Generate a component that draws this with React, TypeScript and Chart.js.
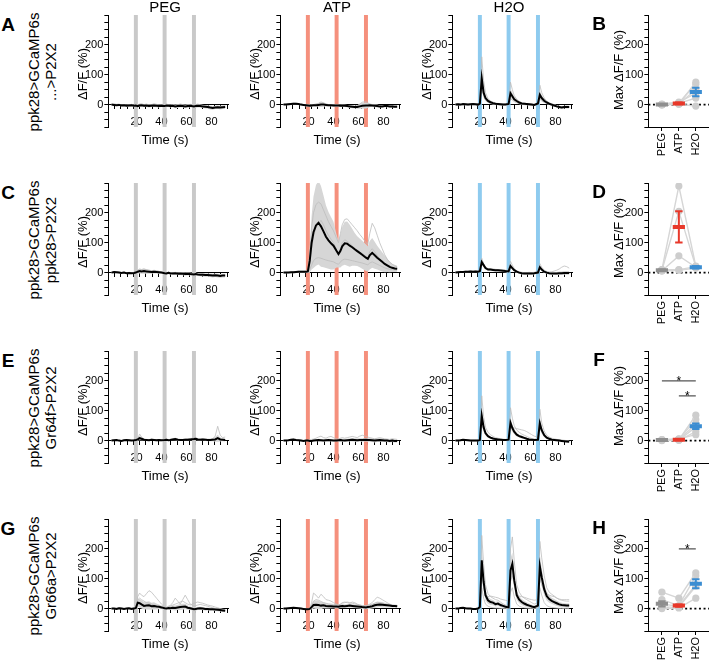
import { useEffect, useRef } from 'react';
import { Chart, registerables } from 'chart.js';

Chart.register(...registerables);

const FONT = '"Liberation Sans", Arial, Helvetica, sans-serif';
Chart.defaults.font.family = FONT;

// ---------- shared axes / labels ----------
const TIME = [0, 2, 4, 6, 8, 10, 12, 14, 16, 18, 19.5, 21, 22.5, 24, 26, 28, 30, 32, 34, 36, 38, 40, 42.5, 44, 45.5, 47, 49, 51, 53, 55, 57, 59, 61, 63, 66, 67.5, 69, 71, 73, 75, 77, 79, 81, 83, 85, 87, 89, 91];
const STIM_TIMES = [19.5, 42.5, 66];
const Y_TICK_LABELS = [0, 100, 200];
const X_TICK_LABELS = [20, 40, 60, 80];
const CONDITIONS = ['PEG', 'ATP', 'H2O'];
const ROW_LETTERS = [['A', 'B'], ['C', 'D'], ['E', 'F'], ['G', 'H']];
const ROW_LABELS = [
  ['ppk28>GCaMP6s', '...>P2X2'],
  ['ppk28>GCaMP6s', 'ppk28>P2X2'],
  ['ppk28>GCaMP6s', 'Gr64f>P2X2'],
  ['ppk28>GCaMP6s', 'Gr66a>P2X2'],
];
const Y_LABEL = 'ΔF/F (%)';
const X_LABEL = 'Time (s)';
const SUM_Y_LABEL = 'Max ΔF/F (%)';

// ---------- row A ----------
const A_PEG_MEAN = [0,-1,-2,-1,-3,-2,-4,-3,-2,-4, -3,-5,-3,-2, -4,-3,-5,-4,-3,-4,-5,-4, -5,-3,-4,-5, -4,-6,-5,-4,-5,-6,-5,-4, -6,-5,-4,-5, -6,-7,-8,-10,-11,-10,-9,-10,-9,-8];
const A_PEG_SEM = [2,2,3,3,3,3,4,4,3,4, 4,5,4,4, 4,5,5,4,4,5,5,4, 5,5,4,5, 5,6,6,5,5,6,6,5, 5,6,6,5, 5,6,6,6,6,5,5,6,6,6];
const A_PEG_IND1 = [0,3,1,2,-2,0,-3,-1,1,-2, 0,-3,2,3, 0,2,-1,0,3,1,-2,0, -2,2,0,-3, 0,-2,-1,2,0,-3,-2,1, -3,0,2,-1, -2,-4,-5,-8,-9,-6,-5,-7,-6,-4];

const A_ATP_MEAN = [0,0,1,2,3,3,2,0,-1,-2, -3,-4,-3,-2, -2,-1,0,0,-1,-2,-2,-3, -3,-3,-4,-4, -4,-5,-6,-7,-8,-8,-6,-4, -3,-3,-2,-3, -4,-5,-6,-6,-5,-5,-6,-6,-7,-7];
const A_ATP_SEM = [2,2,3,3,3,3,3,3,3,4, 4,4,4,4, 5,6,8,7,5,4,4,4, 4,4,4,4, 4,4,5,5,5,6,8,10, 10,8,6,5, 5,5,4,4,4,4,4,4,4,4];
const A_ATP_IND1 = [0,1,3,4,5,4,3,1,0,-1, -2,-3,-1,0, 2,4,9,6,2,0,-1,-2, -1,-2,-3,-2, -3,-4,-3,-5,-6,-4,2,8, 10,6,2,-1, -2,-3,-4,-4,-3,-3,-4,-4,-5,-5];

const A_H2O_MEAN = [0,1,0,2,1,0,1,2,1,0, 3,88,40,22, 12,8,5,3,2,1,0,0, 2,38,28,18, 12,7,4,3,2,1,0,-1, 4,33,22,13, 7,3,0,-3,-6,-8,-10,-8,-8,-8];
const A_H2O_SEM = [3,3,3,3,3,3,3,3,3,3, 4,30,18,10, 6,5,4,3,3,3,3,3, 3,15,12,8, 6,5,4,4,3,3,3,3, 4,14,10,7, 5,4,4,4,4,4,4,4,4,4];
const A_H2O_IND1 = [0,2,1,3,2,1,2,3,2,1, 5,160,80,40, 20,12,8,5,4,3,2,2, 4,75,50,30, 18,10,6,4,3,2,1,0, 6,65,40,22, 12,6,3,0,-3,-5,-8,-6,-5,-6];
const A_H2O_IND2 = [0,-1,-2,0,-1,-2,0,1,0,-1, 2,60,30,15, 8,4,2,0,-1,-2,-2,-1, 0,20,15,10, 6,3,1,0,-1,-2,-3,-3, 2,18,12,8, 4,1,-2,-5,-8,-10,-12,-10,-11,-10];

// ---------- row C ----------
const C_PEG_MEAN = [0,2,1,0,-1,0,-2,-1,-2,-1, 0,3,5,4, 5,4,3,2,3,2,1,0, -2,-3,-1,-2, -3,-2,-4,-3,-4,-5,-4,-5, -6,-5,-6,-7, -7,-8,-8,-9,-10,-9,-10,-11,-10,-10];
const C_PEG_SEM = [3,3,3,3,3,3,3,3,3,3, 4,6,8,8, 9,8,7,6,6,5,5,4, 4,4,4,4, 4,4,4,5,5,5,5,5, 5,5,5,5, 6,6,6,6,6,6,6,6,6,6];
const C_PEG_IND1 = [0,4,3,1,0,2,-1,1,0,1, 3,8,12,10, 12,9,7,5,8,6,4,2, 0,-1,2,0, -1,1,-2,0,-1,-3,-2,-3, -4,-3,-4,-5, -5,-6,-6,-7,-8,-7,-8,-9,-8,-8];

const C_ATP_MEAN = [0,0,0,1,1,2,3,3,3,3, 4,40,100,135, 158,167,155,138,120,108,98,90, 72,62,72,88, 98,97,90,85,78,72,66,60, 50,46,58,66, 58,50,43,36,29,24,19,16,14,13];
const C_ATP_SEM = [2,2,2,3,3,3,4,4,4,4, 5,40,90,120, 135,140,135,120,105,95,88,80, 55,45,55,65, 72,74,70,62,55,50,48,47, 45,42,48,50, 45,40,36,32,28,22,18,14,12,10];
const C_ATP_IND1 = [0,0,0,1,1,2,2,3,3,3, 4,60,150,200, 228,236,230,210,190,170,155,140, 115,100,130,160, 178,180,170,160,150,140,128,118, 100,95,130,165, 150,125,100,80,60,45,35,28,22,20];
const C_ATP_IND2 = [0,0,1,1,2,2,3,3,3,4, 5,30,80,120, 150,165,175,160,140,125,112,100, 78,65,80,100, 110,105,98,90,82,76,70,64, 55,50,70,80, 70,58,46,36,28,22,18,15,13,12];
const C_ATP_IND3 = [0,0,0,0,1,1,1,2,2,2, 3,10,25,40, 48,50,48,45,42,40,38,36, 30,28,35,42, 45,44,42,40,38,36,34,32, 28,26,32,36, 32,28,24,20,16,13,11,10,9,8];

const C_H2O_MEAN = [0,1,2,2,3,3,4,3,4,3, 5,35,25,15, 10,10,9,8,8,7,6,5, 4,22,15,8, 3,0,-2,-3,-3,-3,-3,-2, 0,18,10,3, 0,-2,-3,-3,-3,-2,-2,-1,-1,-1];
const C_H2O_SEM = [2,2,3,3,3,3,3,3,3,3, 3,8,7,5, 4,4,4,4,4,4,4,4, 4,6,5,4, 4,4,4,4,4,4,4,4, 4,7,5,4, 4,4,5,5,5,6,6,6,6,6];
const C_H2O_IND1 = [0,2,4,3,5,4,6,5,6,5, 7,48,30,18, 14,13,12,11,10,9,8,8, 7,38,25,14, 6,3,1,0,0,1,0,1, 3,30,18,8, 4,2,3,5,8,12,18,22,20,15];

// ---------- row E ----------
const E_PEG_MEAN = [0,1,2,0,-1,1,2,1,0,1, 2,4,8,6, 3,2,1,3,2,1,2,1, 2,3,1,2, 4,5,3,2,2,3,3,4, 5,6,4,3, 4,3,2,2,3,4,8,4,3,2];
const E_PEG_SEM = [2,2,2,2,2,2,2,2,2,2, 3,4,7,5, 3,3,3,3,3,3,3,3, 3,3,3,3, 3,4,4,3,3,3,3,3, 4,4,4,4, 4,4,4,4,5,8,12,7,5,5];
const E_PEG_IND1 = [0,2,3,1,0,2,3,2,1,2, 3,6,22,12, 5,4,3,5,4,3,3,2, 3,5,3,4, 6,8,5,4,4,5,6,7, 8,9,6,5, 6,5,4,4,6,15,48,18,10,12];

const E_ATP_MEAN = [0,0,1,3,4,2,1,0,-1,0, 0,-1,-1,0, 1,2,1,0,1,2,1,0, 0,1,2,1, 0,1,2,3,2,1,2,2, 3,2,2,1, 0,1,2,1,0,0,-1,0,-1,-1];
const E_ATP_SEM = [2,2,2,2,2,2,2,2,2,2, 2,3,3,3, 3,4,4,4,4,4,4,3, 3,4,5,5, 5,5,5,6,6,6,6,6, 6,6,6,6, 6,6,6,6,5,5,5,5,5,5];
const E_ATP_IND1 = [0,1,2,4,5,3,2,1,0,1, 2,3,4,5, 8,12,15,10,8,12,14,10, 6,5,8,10, 8,10,12,14,12,10,15,18, 14,12,10,8, 6,8,10,8,6,5,4,6,5,4];

const E_H2O_MEAN = [0,0,1,3,2,1,0,0,0,0, 2,83,45,25, 15,10,7,5,4,3,2,2, 3,60,42,30, 20,15,12,9,6,4,3,2, 3,58,35,18, 10,6,3,2,1,0,-1,-2,-3,-4];
const E_H2O_SEM = [2,2,2,2,2,2,2,2,2,2, 3,25,15,8, 5,4,4,3,3,3,3,3, 3,18,12,9, 6,5,5,4,4,3,3,3, 3,18,12,7, 5,4,4,3,3,3,3,3,3,3];
const E_H2O_IND1 = [0,1,2,4,3,2,1,1,1,1, 4,150,80,45, 28,20,14,10,8,6,5,4, 6,110,75,50, 35,28,22,18,14,10,7,5, 6,105,60,32, 18,12,8,6,4,3,2,1,0,-1];
const E_H2O_IND2 = [0,0,1,2,1,0,-1,-1,0,0, 1,60,35,20, 12,8,6,4,3,2,1,1, 2,50,45,42, 40,38,36,34,30,25,20,15, 12,50,30,18, 12,8,5,3,2,1,0,-1,-2,-3];

// ---------- row G ----------
const G_PEG_MEAN = [0,0,-1,1,0,-1,0,1,-1,0, 2,20,18,14, 9,10,11,8,9,7,6,4, 1,0,2,1, 3,2,4,5,6,7,3,1, -2,-1,0,1, 0,-1,-1,-2,-2,-3,-4,-5,-6,-7];
const G_PEG_SEM = [2,2,2,2,2,2,2,2,2,2, 4,12,14,14, 12,13,14,12,12,10,8,6, 4,4,5,6, 8,8,9,10,10,9,7,6, 5,5,5,5, 5,5,5,5,5,5,5,5,5,5];
const G_PEG_IND1 = [0,0,-1,2,1,0,1,2,0,1, 5,40,52,45, 40,50,60,55,45,35,25,15, 5,3,8,10, 20,35,25,15,30,45,30,15, 8,10,12,14, 12,10,8,5,3,0,-2,-4,-6,-8];
const G_PEG_IND2 = [0,1,2,3,2,1,0,1,2,3, 4,30,35,30, 25,20,18,15,12,10,8,6, 5,4,6,8, 12,15,18,22,25,20,15,12, 18,20,22,20, 18,15,12,10,8,5,3,0,-2,-4];

const G_ATP_MEAN = [0,0,1,2,3,2,1,0,-1,-2, -2,-1,5,12, 13,12,10,11,9,8,8,7, 7,6,8,9, 8,9,10,9,8,7,6,5, 4,5,6,8, 11,13,14,13,12,11,10,9,9,8];
const G_ATP_SEM = [2,2,2,2,2,2,2,2,2,2, 2,3,8,12, 14,14,12,10,9,8,7,6, 6,6,6,6, 6,6,6,6,6,6,6,6, 6,6,7,8, 9,9,9,9,8,7,6,5,5,5];
const G_ATP_IND1 = [0,0,1,2,3,2,1,0,-1,-2, -2,0,20,52, 45,35,48,40,30,28,25,20, 15,12,15,20, 22,20,18,22,20,15,12,10, 8,12,15,20, 30,38,35,30,25,20,15,12,10,9];
const G_ATP_IND2 = [0,1,2,3,4,3,2,1,0,-1, -1,0,10,25, 30,28,24,20,18,16,15,14, 13,12,14,18, 20,22,20,18,16,14,12,10, 9,10,12,14, 18,22,20,18,15,12,10,9,8,8];

const G_H2O_MEAN = [0,0,2,3,1,0,0,-1,-1,0, 5,162,90,45, 28,22,20,15,17,12,9,6, 4,128,150,95, 45,30,22,17,13,10,7,5, 10,142,105,65, 42,32,26,22,18,14,12,11,10,10];
const G_H2O_SEM = [2,2,2,2,2,2,2,2,3,3, 5,45,30,18, 12,10,9,8,8,7,6,5, 5,40,38,28, 15,12,10,9,8,7,6,5, 6,40,30,20, 15,12,10,10,9,8,8,7,7,7];
const G_H2O_IND1 = [0,1,2,4,2,1,0,0,0,1, 8,245,150,80, 50,40,35,30,28,22,16,12, 8,200,240,160, 80,55,42,35,30,25,20,15, 20,225,170,110, 70,55,48,42,36,30,28,26,25,25];
const G_H2O_IND2 = [0,0,1,2,1,0,0,-1,-1,0, 3,110,70,45, 40,42,40,38,36,32,30,28, 25,90,110,80, 50,42,40,38,35,32,30,28, 30,100,80,60, 48,45,42,40,35,32,30,30,30,30];
const G_H2O_IND3 = [0,0,1,1,0,0,0,-1,-1,0, 2,70,35,15, 8,5,3,2,2,1,0,0, 0,55,70,40, 15,8,5,3,2,1,0,0, 3,70,45,20, 10,6,4,3,2,1,1,0,0,0];

// ---------- summary panels (PEG, ATP, H2O) ----------
const B_MEAN = [0, 4, 42];
const B_SEM = [2, 3, 14];
const B_FLIES = [[0, 2, 75], [1, 6, 68], [-1, 3, 50], [2, 8, 38], [0, 4, 22], [-1, 1, -5]];
const B_SIG: number[][] = [];

const D_MEAN = [8, 153, 18];
const D_SEM = [2, 52, 4];
const D_FLIES = [[10, 290, 22], [8, 205, 20], [6, 56, 18], [5, 8, 15], [10, 10, 20]];
const D_SIG: number[][] = [];

const F_MEAN = [2, 3, 48];
const F_SEM = [1, 2, 9];
const F_FLIES = [[2, 2, 85], [1, 5, 70], [3, 4, 55], [2, 2, 45], [0, 1, 30], [3, 6, 20]];
const F_SIG = [[0, 2, 200], [1, 2, 150]];

const H_MEAN = [16, 10, 83];
const H_SEM = [9, 4, 15];
const H_FLIES = [[55, 35, 120], [30, 10, 110], [15, 8, 80], [5, 5, 75], [0, 2, 35]];
const H_SIG = [[1, 2, 200]];

// ---------- layout / style ----------
const Y_MIN = -75;
const Y_MAX = 300;
const X_MAX = 91;
const ROW_TOP = [15, 183, 351, 519];
const COL_X = [108, 280, 452];
const SUM_X = 648;
const PLOT_W = 120;
const PLOT_H = 112;
const SUM_W = 61;
const PAD = 10;
const STIM_COLORS = ['#c9c9c9', '#f5907d', '#8ecbef'];
const COND_COLORS = ['#8f8f8f', '#e8392b', '#3b8dd2'];
const BAND_COLOR = '#d6d6d6';
const IND_COLOR = '#bcbcbc';

const TS_PANELS = [
  [
    { mean: A_PEG_MEAN, sem: A_PEG_SEM, inds: [A_PEG_IND1] },
    { mean: A_ATP_MEAN, sem: A_ATP_SEM, inds: [A_ATP_IND1] },
    { mean: A_H2O_MEAN, sem: A_H2O_SEM, inds: [A_H2O_IND1, A_H2O_IND2] },
  ],
  [
    { mean: C_PEG_MEAN, sem: C_PEG_SEM, inds: [C_PEG_IND1] },
    { mean: C_ATP_MEAN, sem: C_ATP_SEM, inds: [C_ATP_IND1, C_ATP_IND2, C_ATP_IND3] },
    { mean: C_H2O_MEAN, sem: C_H2O_SEM, inds: [C_H2O_IND1] },
  ],
  [
    { mean: E_PEG_MEAN, sem: E_PEG_SEM, inds: [E_PEG_IND1] },
    { mean: E_ATP_MEAN, sem: E_ATP_SEM, inds: [E_ATP_IND1] },
    { mean: E_H2O_MEAN, sem: E_H2O_SEM, inds: [E_H2O_IND1, E_H2O_IND2] },
  ],
  [
    { mean: G_PEG_MEAN, sem: G_PEG_SEM, inds: [G_PEG_IND1, G_PEG_IND2] },
    { mean: G_ATP_MEAN, sem: G_ATP_SEM, inds: [G_ATP_IND1, G_ATP_IND2] },
    { mean: G_H2O_MEAN, sem: G_H2O_SEM, inds: [G_H2O_IND1, G_H2O_IND2, G_H2O_IND3] },
  ],
];

const SUM_PANELS = [
  { mean: B_MEAN, sem: B_SEM, flies: B_FLIES, sig: B_SIG },
  { mean: D_MEAN, sem: D_SEM, flies: D_FLIES, sig: D_SIG },
  { mean: F_MEAN, sem: F_SEM, flies: F_FLIES, sig: F_SIG },
  { mean: H_MEAN, sem: H_SEM, flies: H_FLIES, sig: H_SIG },
];

const tickFont = { size: 11, family: FONT };
const axisGrid = { display: true, drawOnChartArea: false, drawTicks: true, tickLength: 4, color: '#000', lineWidth: 1 };
const axisBorder = { display: true, color: '#000', width: 1 };

const yScale = () => ({
  type: 'linear',
  min: Y_MIN,
  max: Y_MAX,
  ticks: {
    stepSize: 25,
    autoSkip: false,
    padding: 1,
    color: '#000',
    font: tickFont,
    callback: (v: number) => (Y_TICK_LABELS.includes(Math.round(v)) ? String(Math.round(v)) : ''),
  },
  grid: axisGrid,
  border: axisBorder,
});

// Size the chart area to plotW x plotH and move the canvas so that it sits at (left, top).
function placeChart(chart: any, canvas: HTMLCanvasElement, left: number, top: number, plotW: number, plotH: number) {
  const ca = chart.chartArea;
  const p = chart.options.layout.padding;
  chart.options.layout.padding = {
    top: p.top,
    left: p.left,
    right: Math.max(0, p.right + (ca.right - ca.left - plotW)),
    bottom: Math.max(0, p.bottom + (ca.bottom - ca.top - plotH)),
  };
  chart.update();
  const ca2 = chart.chartArea;
  canvas.style.left = `${left - ca2.left}px`;
  canvas.style.top = `${top - ca2.top}px`;
}

const TS_W = 200;
const TS_H = 160;
const SUM_CW = 130;
const SUM_CH = 200;

function TimePanel({ left, top, mean, sem, inds, stimColor }: any) {
  const ref = useRef<HTMLCanvasElement>(null);
  useEffect(() => {
    if (!ref.current) return;
    const toPts = (arr: number[]) => TIME.map((t, i) => ({ x: t, y: arr[i] }));
    const datasets: any[] = [
      {
        type: 'bar',
        data: STIM_TIMES.map((t) => ({ x: t, y: [Y_MIN, Y_MAX] })),
        backgroundColor: stimColor,
        barThickness: 3.3,
        borderWidth: 0,
        order: 10,
      },
      {
        type: 'line',
        data: toPts(mean.map((m: number, i: number) => m + sem[i])),
        fill: '+1',
        backgroundColor: BAND_COLOR,
        borderColor: 'rgba(0,0,0,0)',
        borderWidth: 0,
        pointRadius: 0,
        order: 8,
      },
      {
        type: 'line',
        data: toPts(mean.map((m: number, i: number) => m - sem[i])),
        fill: false,
        borderColor: 'rgba(0,0,0,0)',
        borderWidth: 0,
        pointRadius: 0,
        order: 8,
      },
      ...inds.map((arr: number[]) => ({
        type: 'line',
        data: toPts(arr),
        fill: false,
        borderColor: IND_COLOR,
        borderWidth: 0.8,
        pointRadius: 0,
        order: 5,
      })),
      {
        type: 'line',
        data: toPts(mean),
        fill: false,
        borderColor: '#000',
        borderWidth: 2,
        pointRadius: 0,
        order: 1,
      },
    ];
    const chart = new Chart(ref.current, {
      type: 'line',
      data: { datasets },
      options: {
        animation: false,
        responsive: false,
        maintainAspectRatio: false,
        events: [],
        layout: { padding: { top: PAD, bottom: 20, left: 0, right: 20 } },
        plugins: { legend: { display: false }, tooltip: { enabled: false } },
        scales: {
          x: {
            type: 'linear',
            min: 0,
            max: X_MAX,
            position: { y: 0 },
            ticks: {
              stepSize: 5,
              includeBounds: false,
              autoSkip: false,
              maxRotation: 0,
              minRotation: 0,
              padding: 7,
              color: '#000',
              font: tickFont,
              callback: (v: number) => (X_TICK_LABELS.includes(Math.round(v)) ? String(Math.round(v)) : ''),
            },
            grid: axisGrid,
            border: axisBorder,
          },
          y: yScale(),
        },
      } as any,
    } as any);
    placeChart(chart, ref.current, left, top, PLOT_W, PLOT_H);
    return () => chart.destroy();
  }, []);
  return (
    <canvas
      ref={ref}
      width={TS_W}
      height={TS_H}
      style={{ position: 'absolute', left: 0, top: 0, width: TS_W, height: TS_H }}
    />
  );
}

function SummaryPanel({ top, mean, sem, flies, sig }: any) {
  const ref = useRef<HTMLCanvasElement>(null);
  useEffect(() => {
    if (!ref.current) return;
    const datasets: any[] = [
      {
        type: 'line',
        data: [{ x: -0.8, y: 0 }, { x: 2.8, y: 0 }],
        borderColor: '#000',
        borderWidth: 1.6,
        borderDash: [2, 2.6],
        pointRadius: 0,
        order: 9,
      },
      ...flies.map((f: number[]) => ({
        type: 'line',
        data: CONDITIONS.map((_, i) => ({ x: i, y: f[i] })),
        borderColor: '#d6d6d6',
        borderWidth: 1.4,
        pointRadius: 3.6,
        pointBorderWidth: 0,
        pointBackgroundColor: '#cdcdcd',
        order: 6,
      })),
      ...sig.map((s: number[]) => ({
        type: 'line',
        data: [{ x: s[0], y: s[2] }, { x: s[1], y: s[2] }],
        borderColor: '#555',
        borderWidth: 1.3,
        pointRadius: 0,
        order: 4,
      })),
    ];
    CONDITIONS.forEach((_, i) => {
      const c = COND_COLORS[i];
      const m = mean[i];
      const e = sem[i];
      const base = { type: 'line', borderColor: c, pointRadius: 0, order: 1, borderCapStyle: 'butt' };
      datasets.push({ ...base, data: [{ x: i, y: m - e }, { x: i, y: m + e }], borderWidth: 2 });
      datasets.push({ ...base, data: [{ x: i - 0.22, y: m + e }, { x: i + 0.22, y: m + e }], borderWidth: 2 });
      datasets.push({ ...base, data: [{ x: i - 0.22, y: m - e }, { x: i + 0.22, y: m - e }], borderWidth: 2 });
      datasets.push({ ...base, data: [{ x: i - 0.36, y: m }, { x: i + 0.36, y: m }], borderWidth: 4 });
    });
    const starPlugin = {
      id: 'sigStars',
      afterDatasetsDraw(chart: any) {
        const { ctx, scales } = chart;
        ctx.save();
        ctx.fillStyle = '#000';
        ctx.font = `12px ${FONT}`;
        ctx.textAlign = 'center';
        ctx.textBaseline = 'alphabetic';
        sig.forEach((s: number[]) => {
          ctx.fillText('*', scales.x.getPixelForValue((s[0] + s[1]) / 2), scales.y.getPixelForValue(s[2]) + 4);
        });
        ctx.restore();
      },
    };
    const chart = new Chart(ref.current, {
      type: 'line',
      data: { datasets },
      plugins: [starPlugin],
      options: {
        animation: false,
        responsive: false,
        maintainAspectRatio: false,
        events: [],
        layout: { padding: { top: PAD, bottom: 20, left: 0, right: 20 } },
        plugins: { legend: { display: false }, tooltip: { enabled: false } },
        scales: {
          x: {
            type: 'linear',
            min: -0.8,
            max: 2.8,
            position: 'bottom',
            afterBuildTicks: (s: any) => {
              s.ticks = CONDITIONS.map((_, i) => ({ value: i }));
            },
            ticks: {
              autoSkip: false,
              minRotation: 90,
              maxRotation: 90,
              padding: 2,
              color: '#000',
              font: tickFont,
              callback: (v: number) => CONDITIONS[Math.round(v)] ?? '',
            },
            grid: axisGrid,
            border: axisBorder,
          },
          y: yScale(),
        },
      } as any,
    } as any);
    placeChart(chart, ref.current, SUM_X, top, SUM_W, PLOT_H);
    return () => chart.destroy();
  }, []);
  return (
    <canvas
      ref={ref}
      width={SUM_CW}
      height={SUM_CH}
      style={{ position: 'absolute', left: 0, top: 0, width: SUM_CW, height: SUM_CH }}
    />
  );
}

function Rotated({ cx, cy, size, children, lh }: any) {
  return (
    <div
      style={{
        position: 'absolute',
        left: cx,
        top: cy,
        transform: 'translate(-50%, -50%) rotate(-90deg)',
        whiteSpace: 'nowrap',
        textAlign: 'center',
        fontSize: size,
        lineHeight: `${lh ?? size * 1.15}px`,
        color: '#000',
      }}
    >
      {children}
    </div>
  );
}

function Centered({ cx, cy, size, children, bold }: any) {
  return (
    <div
      style={{
        position: 'absolute',
        left: cx,
        top: cy,
        transform: 'translate(-50%, -50%)',
        whiteSpace: 'nowrap',
        fontSize: size,
        lineHeight: `${size * 1.15}px`,
        fontWeight: bold ? 'bold' : 'normal',
        color: '#000',
      }}
    >
      {children}
    </div>
  );
}

export default function App() {
  return (
    <div
      style={{
        position: 'absolute',
        left: 0,
        top: 0,
        width: 709,
        height: 661,
        overflow: 'hidden',
        background: '#fff',
        fontFamily: FONT,
      }}
    >
      {ROW_TOP.map((top, r) => (
        <div key={r}>
          {TS_PANELS[r].map((p, j) => (
            <TimePanel key={j} left={COL_X[j]} top={top} mean={p.mean} sem={p.sem} inds={p.inds} stimColor={STIM_COLORS[j]} />
          ))}
          <SummaryPanel
            top={top}
            mean={SUM_PANELS[r].mean}
            sem={SUM_PANELS[r].sem}
            flies={SUM_PANELS[r].flies}
            sig={SUM_PANELS[r].sig}
          />
        </div>
      ))}
      {CONDITIONS.map((c, j) => (
        <Centered key={c} cx={COL_X[j] + 57} cy={7} size={15}>
          {c}
        </Centered>
      ))}
      {ROW_TOP.map((top, r) => (
        <div key={`t${r}`}>
          <Centered cx={8} cy={top + 10} size={19} bold>
            {ROW_LETTERS[r][0]}
          </Centered>
          <Centered cx={599} cy={top + 9} size={19} bold>
            {ROW_LETTERS[r][1]}
          </Centered>
          <Rotated cx={41.5} cy={top + 57} size={15} lh={17}>
            {ROW_LABELS[r][0]}
            <br />
            {ROW_LABELS[r][1]}
          </Rotated>
          {COL_X.map((x, j) => (
            <div key={j}>
              <Rotated cx={x - 25} cy={top + 59} size={13}>
                {Y_LABEL}
              </Rotated>
              <Centered cx={x + 57} cy={top + 125} size={13}>
                {X_LABEL}
              </Centered>
            </div>
          ))}
          <Rotated cx={SUM_X - 29} cy={top + 55} size={13}>
            {SUM_Y_LABEL}
          </Rotated>
        </div>
      ))}
    </div>
  );
}
